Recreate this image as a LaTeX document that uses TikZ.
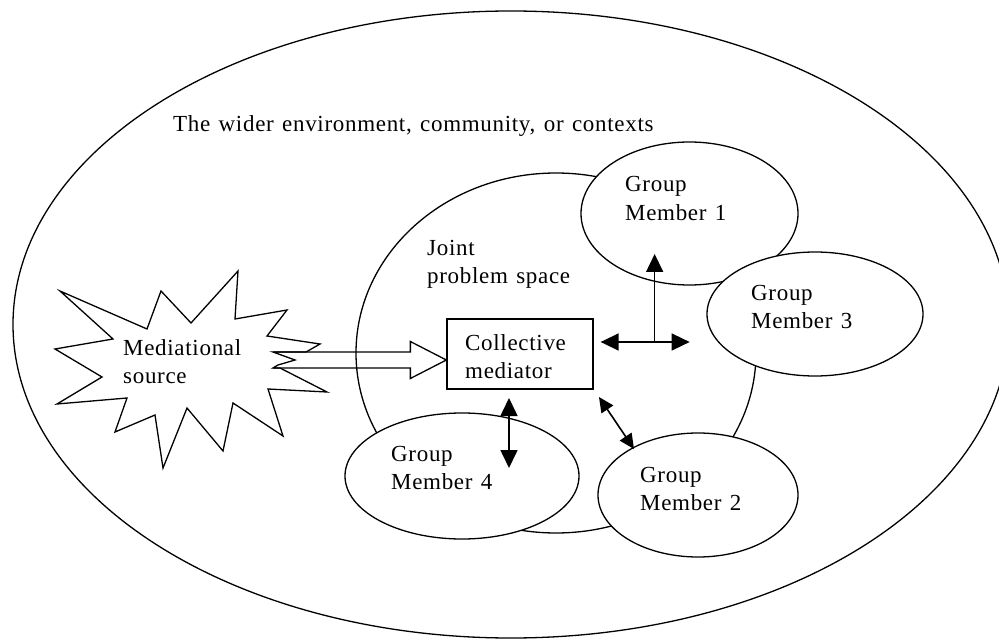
\documentclass[tikz,border=0pt]{standalone}
\usepackage{fontspec}
\setmainfont{Liberation Serif}[LetterSpace=3,WordSpace=1.3]
\usetikzlibrary{shapes.geometric,arrows.meta,calc}
% two stacked lines whose baseline is the first line
\newcommand\twoline[2]{\vtop{\hbox{#1}\hbox{#2}}}
\begin{document}
\begin{tikzpicture}[x=1pt,y=-1pt,
  every node/.style={font=\fontsize{23}{28.5}\selectfont},
  outline/.style={draw=black,line width=1.3pt},
  member/.style={outline,ellipse,fill=white,inner sep=0pt},
  txt/.style={anchor=base west,inner sep=0pt},
  bigtip/.tip={Triangle[length=18pt,width=17pt]},
  smalltip/.tip={Triangle[length=15pt,width=14pt]},
  link/.style={line width=1.6pt},
]
\useasboundingbox (0,0) rectangle (999,639);
\clip (0,0) rectangle (999,639);

% the wider environment
\node[outline,ellipse,inner sep=0pt,minimum width=996pt,minimum height=627pt] (world) at (511,324.5) {};
\node[txt] (worldtxt) at (173,132) {The wider environment, community, or contexts};

% joint problem space
\node[outline,ellipse,inner sep=0pt,minimum width=400pt,minimum height=360pt] (jps) at (556,353) {};
\node[txt] (jpstxt) at (427,255) {\twoline{Joint}{problem space}};

% group members
\node[member,minimum width=217pt,minimum height=143pt] (gm1) at (689.5,213.5) {};
\node[member,minimum width=216pt,minimum height=124pt] (gm3) at (815,314) {};
\node[member,minimum width=200pt,minimum height=124pt] (gm2) at (698,495) {};
\node[member,minimum width=234pt,minimum height=126pt] (gm4) at (462,476) {};
\node[txt] (gm1txt) at (625,192) {\twoline{Group}{Member 1}};
\node[txt] (gm3txt) at (751,300) {\twoline{Group}{Member 3}};
\node[txt] (gm2txt) at (640,482) {\twoline{Group}{Member 2}};
\node[txt] (gm4txt) at (391,461) {\twoline{Group}{Member 4}};

% collective mediator
\node[outline,fill=white,inner sep=0pt,minimum width=146pt,minimum height=70pt] (cm) at (520,354) {};
\node[txt] (cmtxt) at (465,350) {\twoline{Collective}{mediator}};

% mediational source
\draw[outline,line join=miter] (60,291) -- (147,329) -- (161,291) -- (191,323) -- (238,271)
  -- (235,319) -- (287,310) -- (267,336) -- (320,344) -- (306,352) -- (273,352)
  -- (295,360) -- (278,365) -- (273,368) -- (280,368) -- (327,392) -- (268,389)
  -- (283,436) -- (233,403) -- (223,451) -- (187,408) -- (163,468) -- (155,415)
  -- (115,432) -- (127,398) -- (57,404) -- (102,377) -- (55,349) -- (113,339) -- cycle;
\node[txt] (srctxt) at (123,355) {\twoline{Mediational}{source}};
\coordinate (srctail) at (273,360);

% block arrow from the source to the mediator
\coordinate (tip) at ($(cm.west)+(0,6)$);
\draw[outline,line join=miter]
  ($(srctail)+(0,-8)$) -- ($(tip)+(-36,-8)$) -- ($(tip)+(-36,-18.5)$) -- (tip)
  -- ($(tip)+(-36,18.5)$) -- ($(tip)+(-36,8)$) -- ($(srctail)+(0,8)$);

% links between mediator and members
\coordinate (hl) at ($(cm.east)+(7,-12)$);
\coordinate (hr) at ($(cm.east)+(96,-12)$);
\coordinate (hj) at ($(cm.east)+(61,-12)$);
\coordinate (up) at (hj |- 0,254);
\draw[link,bigtip-bigtip] (hl) -- (hr);
\draw[link,-bigtip] (hj) -- (up);

\coordinate (v4a) at (509,398);
\coordinate (v4b) at (509,468);
\draw[link,bigtip-bigtip] (v4a) -- (v4b);

\coordinate (d2a) at (599,397);
\coordinate (d2b) at (634,449);
\draw[link,smalltip-smalltip] (d2a) -- (d2b);
\end{tikzpicture}
\end{document}
